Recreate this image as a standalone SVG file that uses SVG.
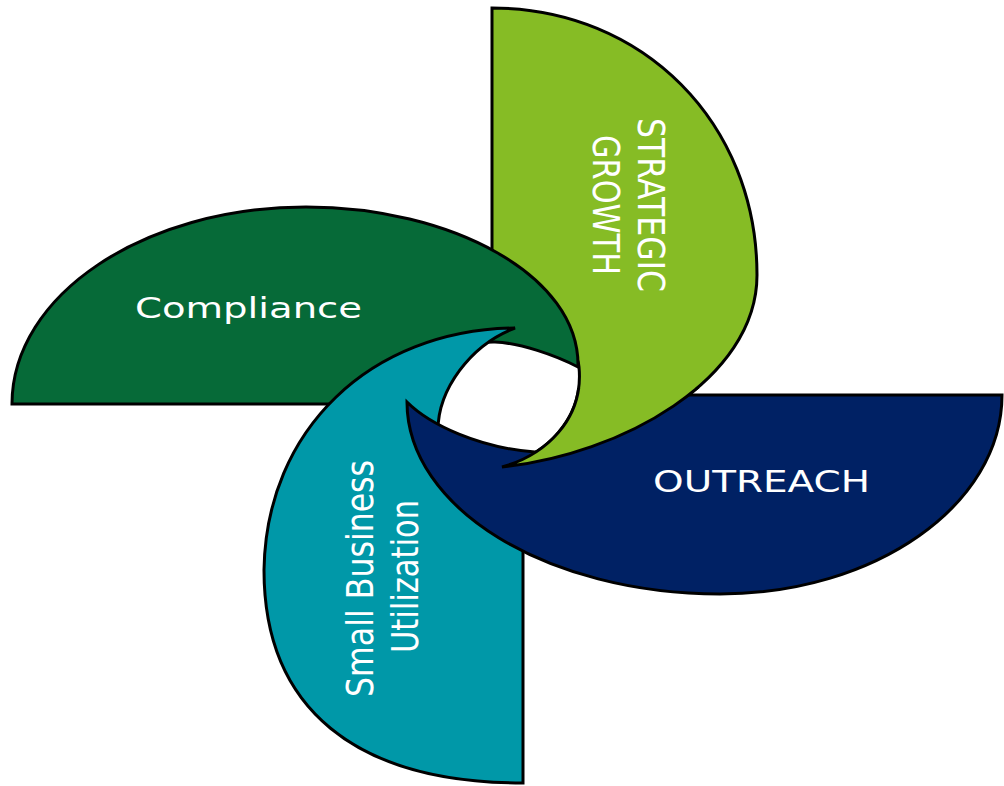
<svg xmlns="http://www.w3.org/2000/svg" xmlns:xlink="http://www.w3.org/1999/xlink" width="1004" height="786" viewBox="0 0 1004 786">
<style>
.shape{stroke:#000;stroke-width:3;stroke-linejoin:miter}
.lbl{fill:#fff;font-family:"DejaVu Sans","Liberation Sans",sans-serif}
</style>
<defs>
<path id="greenShape" d="M 492,8 C 643,8 757,123 757,275 C 757,380 620,455 502,467 C 545,455 584,420 579,367 C 577,340 530,300 492,300 Z"/>
<clipPath id="lowClip"><rect x="470" y="388" width="320" height="100"/></clipPath>
</defs>
<rect width="1004" height="786" fill="#fff"/>
<g id="strategic-growth">
<use xlink:href="#greenShape" class="shape" fill="#86BC25"/>
<text class="lbl" font-size="37" transform="translate(638,118) rotate(90)" textLength="174" lengthAdjust="spacingAndGlyphs">STRATEGIC</text>
<text class="lbl" font-size="37" transform="translate(593,135) rotate(90)" textLength="140" lengthAdjust="spacingAndGlyphs">GROWTH</text>
</g>
<g id="compliance">
<path class="shape" fill="#066A38" d="M 12,404 C 12,295 144,207 306,207 C 450,207 580,275 578,367 C 555,355 520,343 495,342 C 460,341 420,370 400,404 Z"/>
<text class="lbl" font-size="29" x="135" y="318" textLength="227" lengthAdjust="spacingAndGlyphs">Compliance</text>
</g>
<g id="small-business-utilization">
<path class="shape" fill="#0098A8" d="M 523,783 C 355,783 264,708 264,570 C 266,430 370,330 515,328 C 470,345 438,390 438,430 C 438,460 480,495 523,505 Z"/>
<text class="lbl" font-size="38" transform="translate(373,697) rotate(-90)" textLength="237" lengthAdjust="spacingAndGlyphs">Small Business</text>
<text class="lbl" font-size="38" transform="translate(418,653) rotate(-90)" textLength="153" lengthAdjust="spacingAndGlyphs">Utilization</text>
</g>
<g id="outreach">
<path class="shape" fill="#002164" d="M 1002,395 C 1002,505 875,594 720,594 C 547,594 407,508 407,402 C 430,425 480,448 535,452 C 560,450 595,420 600,395 Z"/>
<text class="lbl" font-size="30" x="653" y="492" textLength="217" lengthAdjust="spacingAndGlyphs">OUTREACH</text>
</g>
<g id="strategic-growth-overlap">
<use xlink:href="#greenShape" class="shape" fill="#86BC25" clip-path="url(#lowClip)"/>
</g>
</svg>
